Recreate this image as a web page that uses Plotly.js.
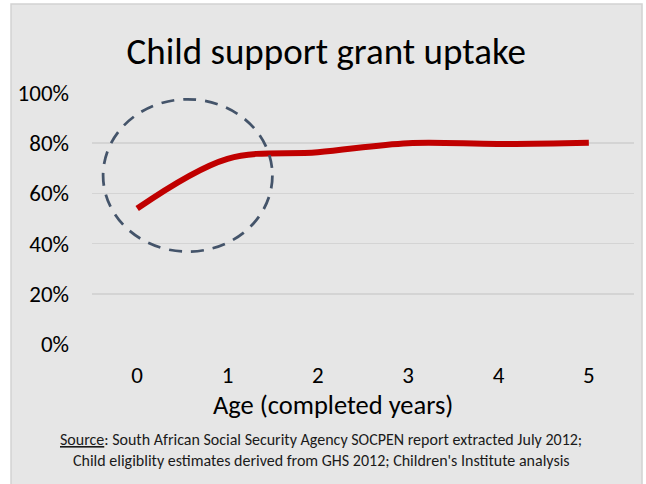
<!DOCTYPE html>
<html>
<head>
<meta charset="utf-8">
<script src="https://cdn.plot.ly/plotly-3.0.1.min.js"></script>
<style>
  html, body { margin: 0; padding: 0; background: #ffffff; }
  #chart { width: 646px; height: 484px; }
</style>
</head>
<body>
<div id="chart"></div>
<script>
// Child support grant uptake by age (share of eligible children receiving the grant)
const ages = [0, 1, 2, 3, 4, 5];
const uptakePct = [54, 73.8, 76.4, 80, 79.7, 80.2];
const yTickVals = [0, 20, 40, 60, 80, 100];
const yTickText = ['0%', '20%', '40%', '60%', '80%', '100%'];
const xTickText = ['0', '1', '2', '3', '4', '5'];

const FONT = 'Carlito, Calibri, Lato, sans-serif';

const trace = {
  x: ages,
  y: uptakePct,
  type: 'scatter',
  mode: 'lines',
  line: { color: '#c00000', width: 6, shape: 'spline', smoothing: 1 },
  hoverinfo: 'skip'
};

const layout = {
  width: 646,
  height: 484,
  margin: { l: 92, r: 12, t: 93, b: 140 },
  paper_bgcolor: '#ffffff',
  plot_bgcolor: 'rgba(0,0,0,0)',
  showlegend: false,
  font: { family: FONT, color: '#000000' },
  title: {
    text: 'Child support grant uptake',
    font: { family: FONT, size: 37, color: '#000000' },
    xref: 'container', x: 0.505, xanchor: 'center',
    yref: 'container', y: 0.895, yanchor: 'middle'
  },
  xaxis: {
    range: [-0.5, 5.5],
    tickmode: 'array',
    tickvals: ages,
    ticktext: xTickText,
    showgrid: false,
    zeroline: false,
    showline: false,
    ticks: '',
    ticklabelstandoff: 15,
    tickfont: { family: FONT, size: 23, color: '#000000' }
  },
  yaxis: {
    range: [0, 100],
    tickmode: 'array',
    tickvals: yTickVals,
    ticktext: yTickText,
    showgrid: true,
    gridcolor: '#d4d4d4',
    gridwidth: 1.5,
    zeroline: false,
    showline: false,
    ticks: '',
    ticklabelstandoff: 22,
    tickfont: { family: FONT, size: 23, color: '#000000' }
  },
  shapes: [
    {
      // chart panel
      type: 'rect', xref: 'paper', yref: 'paper', layer: 'below',
      x0: -0.1494, x1: 1.0148, y0: -0.62, y1: 1.3546,
      fillcolor: '#e6e6e6',
      line: { color: '#d2d2d2', width: 1.5 }
    },
    {
      // dashed highlight around the first year
      type: 'circle', xref: 'x', yref: 'y', layer: 'above',
      x0: -0.377, x1: 1.497, y0: 36.8, y1: 97.5,
      line: { color: '#44546a', width: 2.75, dash: '13px,9px' }
    }
  ],
  annotations: [
    {
      text: 'Age (completed years)',
      xref: 'paper', yref: 'paper', x: 0.4446, y: -0.243,
      xanchor: 'center', yanchor: 'middle', showarrow: false,
      font: { family: FONT, size: 26.5, color: '#000000' }
    },
    {
      text: '<span style="text-decoration:underline">Source</span>: South African Social Security Agency SOCPEN report extracted July 2012;',
      xref: 'paper', yref: 'paper', x: 0.4234, y: -0.382,
      xanchor: 'center', yanchor: 'middle', showarrow: false,
      font: { family: FONT, size: 16, color: '#1a1a1a' }
    },
    {
      text: "Child eligiblity estimates derived from GHS 2012; Children's Institute analysis",
      xref: 'paper', yref: 'paper', x: 0.4234, y: -0.466,
      xanchor: 'center', yanchor: 'middle', showarrow: false,
      font: { family: FONT, size: 16, color: '#1a1a1a' }
    }
  ]
};

Plotly.newPlot('chart', [trace], layout, { staticPlot: true, displayModeBar: false });
</script>
</body>
</html>
